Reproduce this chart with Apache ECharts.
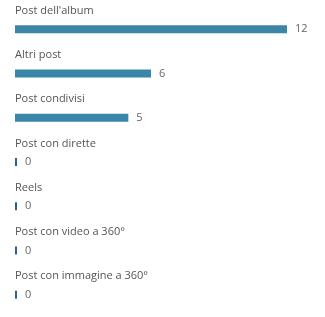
<!DOCTYPE html>
<html>
<head>
<meta charset="utf-8">
<script src="https://cdn.jsdelivr.net/npm/echarts@6/dist/echarts.min.js"></script>
<style>
  html, body { margin: 0; padding: 0; background: #fff; }
  #chart { width: 325px; height: 317px; }
</style>
</head>
<body>
<div id="chart"></div>
<script>
// tipi di post e numero di post
const categories = ['Post dell\'album', 'Altri post', 'Post condivisi', 'Post con dirette', 'Reels', 'Post con video a 360°', 'Post con immagine a 360°'];
const values = [12, 6, 5, 0, 0, 0, 0];

const chart = echarts.init(document.getElementById('chart'));

chart.setOption({
  animation: false,
  grid: { left: 15, right: 38, top: 7, height: 311 },
  xAxis: {
    type: 'value',
    min: 0,
    max: 12,
    show: false
  },
  yAxis: {
    type: 'category',
    inverse: true,
    data: categories,
    axisLine: { show: false },
    axisTick: { show: false },
    axisLabel: {
      inside: true,
      margin: 0,
      align: 'left',
      verticalAlign: 'bottom',
      padding: [0, 0, 13, 0],
      color: '#555',
      fontSize: 11,
      fontFamily: 'Open Sans'
    }
  },
  series: [{
    type: 'bar',
    data: values,
    barWidth: 8,
    barMinHeight: 2,
    itemStyle: {
      color: p => p.value === 0 ? '#2c6198' : '#3b86a6'
    },
    label: {
      show: true,
      position: 'right',
      distance: 8,
      color: '#666',
      fontSize: 11,
      fontFamily: 'Open Sans'
    }
  }]
});
</script>
</body>
</html>
